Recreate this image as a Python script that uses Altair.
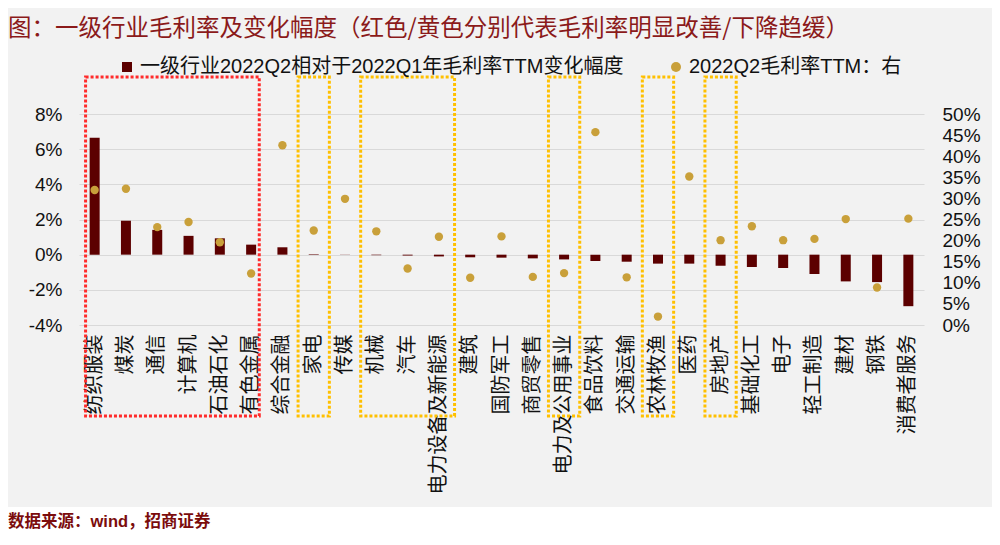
import altair as alt
import pandas as pd

# 一级行业
categories = ["纺织服装", "煤炭", "通信", "计算机", "石油石化", "有色金属", "综合金融",
              "家电", "传媒", "机械", "汽车", "电力设备及新能源", "建筑", "国防军工",
              "商贸零售", "电力及公用事业", "食品饮料", "交通运输", "农林牧渔", "医药",
              "房地产", "基础化工", "电子", "轻工制造", "建材", "钢铁", "消费者服务"]
# 2022Q2 相对 2022Q1 毛利率TTM变化幅度 (%), left axis
change = [6.65, 1.93, 1.41, 1.07, 0.93, 0.57, 0.42, 0.03, 0.01, -0.03, -0.05, -0.10,
          -0.15, -0.17, -0.21, -0.27, -0.36, -0.40, -0.51, -0.51, -0.63, -0.70, -0.76,
          -1.10, -1.52, -1.56, -2.93]
# 2022Q2 毛利率TTM (%), right axis
margin = [32.0, 32.3, 23.2, 24.4, 19.6, 12.2, 42.6, 22.4, 29.9, 22.2, 13.4, 20.9, 11.2,
          21.0, 11.4, 12.3, 45.7, 11.3, 2.0, 35.2, 20.1, 23.4, 20.1, 20.4, 25.1, 8.9, 25.2]

series = ["一级行业2022Q2相对于2022Q1年毛利率TTM变化幅度", "2022Q2毛利率TTM：右"]
left_ticks = [-4, -2, 0, 2, 4, 6, 8]
right_ticks = [0, 5, 10, 15, 20, 25, 30, 35, 40, 45, 50]

# highlighted groups (first, last category)
red_groups = [("纺织服装", "有色金属")]
yellow_groups = [("家电", "家电"), ("机械", "电力设备及新能源"), ("电力及公用事业", "电力及公用事业"),
                 ("农林牧渔", "农林牧渔"), ("房地产", "房地产")]

bar_color = "#5c0000"
dot_color = "#c9a03a"
latin_cjk = "Liberation Sans, Noto Sans CJK SC"

df = pd.DataFrame({"industry": categories, "change": change, "margin": margin})

x_enc = alt.X("industry:N", scale=alt.Scale(domain=categories, paddingInner=0, paddingOuter=0),
              axis=alt.Axis(title=None, labelAngle=-90, labelFont="Noto Sans CJK SC",
                            labelFontSize=20, labelColor="#111", labelPadding=9,
                            domain=False, ticks=False, labelOverlap=False))

color_scale = alt.Scale(domain=series, range=[bar_color, dot_color])
legend = alt.Legend(
    title=None, orient="none", legendX=38, legendY=-57, direction="horizontal",
    labelFont=latin_cjk, labelFontSize=20, labelColor="#111", labelLimit=800,
    labelOffset=3, columnPadding=42, symbolSize=100, symbolStrokeWidth=0,
)

bars = alt.Chart(df).transform_calculate(series=f"'{series[0]}'").mark_bar(size=10).encode(
    x=x_enc,
    y=alt.Y("change:Q", scale=alt.Scale(domain=[-4, 8], nice=False),
            axis=alt.Axis(title=None, values=left_ticks, labelExpr="datum.value + '%'",
                          grid=True, gridColor="#d9d9d9", domain=False, ticks=False,
                          labelFont=latin_cjk, labelFontSize=19, labelColor="#111",
                          labelPadding=17)),
    color=alt.Color("series:N", scale=color_scale, legend=legend),
)

dots = alt.Chart(df).transform_calculate(series=f"'{series[1]}'").mark_point(
    filled=True, size=70, opacity=1
).encode(
    x=x_enc,
    y=alt.Y("margin:Q", scale=alt.Scale(domain=[0, 50], nice=False),
            axis=alt.Axis(title=None, orient="right", values=right_ticks,
                          labelExpr="datum.value + '%'", grid=False, domain=False,
                          ticks=False, labelFont=latin_cjk, labelFontSize=19,
                          labelColor="#111", labelPadding=18, labelOverlap=False)),
    color=alt.Color("series:N", scale=color_scale, legend=legend),
    shape=alt.Shape("series:N", scale=alt.Scale(domain=series, range=["square", "circle"]),
                    legend=legend),
)

red_df = pd.DataFrame(red_groups, columns=["start", "end"])
yellow_df = pd.DataFrame(yellow_groups, columns=["start", "end"])

red_box = alt.Chart(red_df).mark_rect(
    fillOpacity=0, stroke="#ff2b2b", strokeWidth=3, strokeDash=[3, 2]
).encode(
    x=alt.X("start:N", bandPosition=0.21),
    x2=alt.X2("end:N", bandPosition=0.76),
    y=alt.value(-37), y2=alt.value(302),
)

yellow_box = alt.Chart(yellow_df).mark_rect(
    fillOpacity=0, stroke="#ffc000", strokeWidth=3, strokeDash=[3, 2]
).encode(
    x=alt.X("start:N", bandPosition=0),
    x2=alt.X2("end:N", bandPosition=1),
    y=alt.value(-37), y2=alt.value(302),
)

footer_bg = alt.Chart(pd.DataFrame({"a": [0]})).mark_rect(color="white").encode(
    x=alt.value(-71), x2=alt.value(913), y=alt.value(393), y2=alt.value(430),
)
footer = alt.Chart(pd.DataFrame({"t": ["数据来源：wind，招商证券"]})).mark_text(
    align="left", baseline="middle", font=latin_cjk, fontSize=16.5,
    fontWeight="bold", color="#7b0c0c"
).encode(x=alt.value(-71), y=alt.value(408), text="t:N")

chart = alt.layer(bars, dots, red_box, yellow_box, footer_bg, footer).resolve_scale(
    y="independent"
).properties(
    width=845, height=211,
    autosize=alt.AutoSizeParams(type="none"),
    padding={"left": 71, "top": 106, "right": 68, "bottom": 212},
    background="#f2f2f2",
    title=alt.Title("图：一级行业毛利率及变化幅度（红色/黄色分别代表毛利率明显改善/下降趋缓）",
                    anchor="start", frame="group", font="Noto Sans CJK SC", fontSize=23.5,
                    fontWeight="normal", color="#8b1a1a", dx=-71, offset=17),
).configure_view(stroke=None)

chart.save("out.html", embed_options={"renderer": "svg", "actions": False})
